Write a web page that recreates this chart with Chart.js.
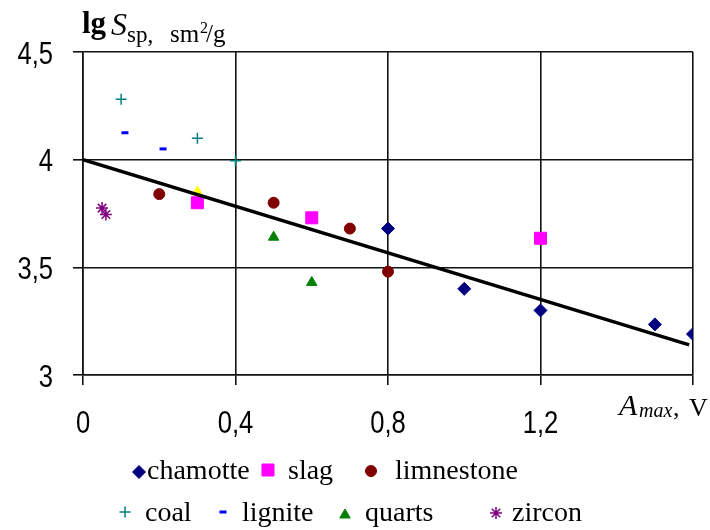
<!DOCTYPE html>
<html><head><meta charset="utf-8">
<script src="https://cdn.jsdelivr.net/npm/chart.js@4.4.1/dist/chart.umd.min.js"></script>
<style>html,body{margin:0;padding:0;background:#fff}#wrap{width:710px;height:530px}</style>
</head><body><div id="wrap"><canvas id="c" width="710" height="530"></canvas></div>
<script>
const seriesNames = ['chamotte','slag','limnestone','coal','lignite','quarts','zircon'];
const chamotteX = [0.8, 1.0, 1.2, 1.5, 1.6];
const chamotteY = [3.68, 3.40, 3.30, 3.235, 3.19];
const slagX = [0.3, 0.6, 1.2];
const slagY = [3.80, 3.73, 3.635];
const limestoneX = [0.2, 0.5, 0.7, 0.8];
const limestoneY = [3.84, 3.80, 3.68, 3.48];
const coalX = [0.1, 0.3, 0.4];
const coalY = [4.28, 4.10, 3.995];
const ligniteX = [0.11, 0.21];
const ligniteY = [4.125, 4.05];
const quartsX = [0.5, 0.6];
const quartsY = [3.64, 3.43];
const zirconX = [0.05, 0.06];
const zirconY = [3.775, 3.745];
const extraX = [0.3];
const extraY = [3.85];
const trendX = [0, 1.59];
const trendY = [4.0, 3.14];
const xTicks = [0, 0.4, 0.8, 1.2, 1.6];
const xTickLabels = ['0', '0,4', '0,8', '1,2', ''];
const yTicks = [3, 3.5, 4, 4.5];
const yTickLabels = ['3', '3,5', '4', '4,5'];

const pts = (xs, ys) => xs.map((x, i) => ({x: x, y: ys[i]}));
const TICKFONT = "'Liberation Sans', Arial, sans-serif";
const SERIF = "'Liberation Serif', 'DejaVu Serif', serif";

function ds(label, data, style, color, radius, extra) {
  return Object.assign({
    label: label, data: data, showLine: false,
    pointStyle: style, pointRadius: radius, pointHoverRadius: radius,
    backgroundColor: color, borderColor: color, pointBorderWidth: 1
  }, extra || {});
}

const datasets = [
  ds(seriesNames[0], pts(chamotteX, chamotteY), 'rectRot', '#000080', 6.5),
  ds(seriesNames[1], pts(slagX, slagY), 'rect', '#FF00FF', 8.5),
  ds(seriesNames[2], pts(limestoneX, limestoneY), 'circle', '#800000', 5.5),
  ds(seriesNames[3], pts(coalX, coalY), 'cross', '#008080', 5.5, {pointBorderWidth: 1.5}),
  ds(seriesNames[4], pts(ligniteX, ligniteY), 'line', '#0000FF', 3.5, {pointBorderWidth: 3}),
  ds(seriesNames[5], pts(quartsX, quartsY), 'triangle', '#008000', 6),
  ds(seriesNames[6], pts(zirconX, zirconY), 'star', '#800080', 6, {pointBorderWidth: 1.5}),
  ds('', pts(extraX, extraY), 'triangle', '#FFFF00', 6, {hideLegend: true}),
  {label: 'trend', data: pts(trendX, trendY), showLine: true, borderColor: '#000', borderWidth: 3.5,
   pointRadius: 0, fill: false, hideLegend: true, order: -1}
];

const legendPos = [
  {mx: 139, my: 472, tx: 147, ty: 479},
  {mx: 268, my: 470, tx: 288, ty: 479},
  {mx: 371, my: 471, tx: 395, ty: 479},
  {mx: 125, my: 512, tx: 145, ty: 521},
  {mx: 223, my: 512, tx: 242, ty: 521},
  {mx: 345, my: 515, tx: 365, ty: 521},
  {mx: 496, my: 513, tx: 512, ty: 521}
];

function narrowText(ctx, text, x, y, align) {
  ctx.save();
  ctx.translate(x, y);
  ctx.scale(0.8, 1);
  ctx.textAlign = align;
  ctx.fillText(text, 0, 0);
  ctx.restore();
}

const decor = {
  id: 'decor',
  afterDraw(chart) {
    const ctx = chart.ctx;
    const xs = chart.scales.x, ys = chart.scales.y;
    ctx.save();
    ctx.fillStyle = '#000';
    ctx.textBaseline = 'alphabetic';
    // tick labels (narrow)
    ctx.font = "32px " + TICKFONT;
    xTicks.forEach((v, i) => narrowText(ctx, xTickLabels[i], xs.getPixelForValue(v), 433, 'center'));
    yTicks.forEach((v, i) => narrowText(ctx, yTickLabels[i], 53, ys.getPixelForValue(v) + 11.5, 'right'));
    ctx.textAlign = 'left';
    // y-axis title
    ctx.font = "bold 31px " + SERIF;
    ctx.fillText('lg', 82, 33);
    ctx.font = "italic 32px " + SERIF;
    ctx.fillText('S', 111, 35);
    ctx.font = "23px " + SERIF;
    ctx.fillText('sp,', 127, 42);
    ctx.font = "25px " + SERIF;
    ctx.fillText('sm', 170, 42);
    ctx.font = "16px " + SERIF;
    ctx.fillText('2', 200, 33);
    ctx.font = "25px " + SERIF;
    ctx.fillText('/g', 206, 42);
    // x-axis title
    ctx.font = "italic 30px " + SERIF;
    ctx.fillText('A', 619, 415);
    ctx.font = "italic 20px " + SERIF;
    ctx.fillText('max', 639, 417);
    ctx.font = "26px " + SERIF;
    ctx.fillText(',', 673, 416);
    ctx.fillText('V', 689, 416);
    // legend
    ctx.font = "28px " + SERIF;
    chart.data.datasets.forEach((d, i) => {
      if (d.hideLegend || i >= legendPos.length) return;
      const p = legendPos[i];
      ctx.fillStyle = d.backgroundColor;
      ctx.strokeStyle = d.borderColor;
      ctx.lineWidth = d.pointBorderWidth;
      Chart.helpers.drawPoint(ctx, {pointStyle: d.pointStyle, radius: d.pointRadius, rotation: 0, borderWidth: d.pointBorderWidth}, p.mx, p.my);
      ctx.fillStyle = '#000';
      ctx.fillText(d.label, p.tx, p.ty);
    });
    ctx.restore();
  }
};

new Chart(document.getElementById('c'), {
  type: 'scatter',
  data: {datasets: datasets},
  options: {
    responsive: false,
    animation: false,
    devicePixelRatio: 1,
    layout: {padding: {left: 0, right: 17, top: 52, bottom: 0}},
    plugins: {legend: {display: false}, tooltip: {enabled: false}},
    elements: {line: {tension: 0}},
    scales: {
      x: {
        type: 'linear', min: 0, max: 1.6,
        afterBuildTicks: s => { s.ticks = xTicks.map(v => ({value: v})); },
        afterFit: s => { s.height = 155; },
        ticks: {display: false, autoSkip: false, maxRotation: 0, callback: (v, i) => xTickLabels[i]},
        grid: {color: '#111', lineWidth: 1.6, tickLength: 10, drawTicks: true},
        border: {color: '#111', width: 1.6}
      },
      y: {
        type: 'linear', min: 3, max: 4.5,
        afterBuildTicks: s => { s.ticks = yTicks.map(v => ({value: v})); },
        afterFit: s => { s.width = 83; },
        ticks: {display: false, autoSkip: false, callback: (v, i) => yTickLabels[i]},
        grid: {color: '#111', lineWidth: 1.6, tickLength: 10, drawTicks: true},
        border: {color: '#111', width: 1.6}
      }
    }
  },
  plugins: [decor]
});
</script>
</body></html>
